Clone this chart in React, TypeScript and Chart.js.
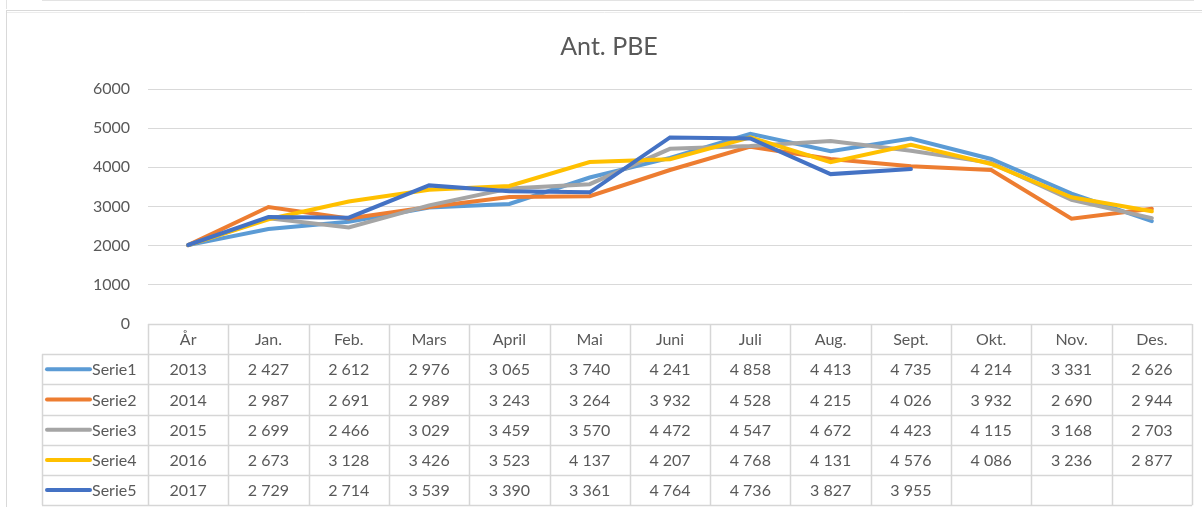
import React, { useEffect, useRef } from "react";
import { Chart, registerables } from "chart.js";

Chart.register(...registerables);

const categories = ["År", "Jan.", "Feb.", "Mars", "April", "Mai", "Juni", "Juli", "Aug.", "Sept.", "Okt.", "Nov.", "Des."];
const serie1 = [2013, 2427, 2612, 2976, 3065, 3740, 4241, 4858, 4413, 4735, 4214, 3331, 2626];
const serie2 = [2014, 2987, 2691, 2989, 3243, 3264, 3932, 4528, 4215, 4026, 3932, 2690, 2944];
const serie3 = [2015, 2699, 2466, 3029, 3459, 3570, 4472, 4547, 4672, 4423, 4115, 3168, 2703];
const serie4 = [2016, 2673, 3128, 3426, 3523, 4137, 4207, 4768, 4131, 4576, 4086, 3236, 2877];
const serie5 = [2017, 2729, 2714, 3539, 3390, 3361, 4764, 4736, 3827, 3955, null, null, null];
const seriesNames = ["Serie1", "Serie2", "Serie3", "Serie4", "Serie5"];
const seriesColors = ["#5B9BD5", "#ED7D31", "#A5A5A5", "#FFC000", "#4472C4"];
const seriesValues = [serie1, serie2, serie3, serie4, serie5];
const chartTitle = "Ant. PBE";
const yMin = 0;
const yMax = 6000;
const yStep = 1000;

const FONT = "Lato, 'Noto Sans', sans-serif";
const TEXT = "#595959";
const BORDER = "#d6d6d6";

function fmt(v: number | null, idx: number): string {
  if (v === null || v === undefined) return "";
  if (idx === 0) return String(v);
  return String(v).replace(/\B(?=(\d{3})+(?!\d))/g, " ");
}

const tablePlugin = {
  id: "dataTable",
  beforeDraw(chart: any) {
    const ctx = chart.ctx;
    ctx.save();
    ctx.fillStyle = "#ffffff";
    ctx.fillRect(0, 0, chart.width, chart.height);
    ctx.strokeStyle = "#e3e3e3";
    ctx.lineWidth = 1;
    ctx.beginPath();
    ctx.moveTo(42, 0.5);
    ctx.lineTo(1194, 0.5);
    ctx.moveTo(6.5, 0);
    ctx.lineTo(6.5, 9);
    ctx.stroke();
    ctx.strokeStyle = "#d9d9d9";
    ctx.beginPath();
    ctx.moveTo(6, 10.5);
    ctx.lineTo(chart.width, 10.5);
    ctx.moveTo(6.5, 10);
    ctx.lineTo(6.5, chart.height);
    ctx.stroke();
    ctx.strokeStyle = "#ececec";
    ctx.beginPath();
    ctx.moveTo(7, 12.5);
    ctx.lineTo(chart.width, 12.5);
    ctx.stroke();
    ctx.restore();
  },
  afterDraw(chart: any) {
    const ctx = chart.ctx;
    const xs = chart.scales.x;
    const n = categories.length;
    const w = (xs.right - xs.left) / n;
    const left = xs.left;
    const right = xs.right;
    const top = chart.chartArea.bottom;
    const rowH = 30.2;
    const legLeft = 42;
    const rows = seriesValues.length;
    ctx.save();
    // title
    ctx.fillStyle = TEXT;
    ctx.font = `25px ${FONT}`;
    ctx.textAlign = "center";
    ctx.textBaseline = "middle";
    ctx.fillText(chartTitle, 609, 47);

    // table borders
    ctx.strokeStyle = BORDER;
    ctx.lineWidth = 1.5;
    ctx.beginPath();
    for (let k = 0; k <= rows + 1; k++) {
      const y = Math.round(top + k * rowH) + 0.5;
      ctx.moveTo(k === 0 ? left : legLeft, y);
      ctx.lineTo(right, y);
    }
    const bottom = top + (rows + 1) * rowH;
    ctx.moveTo(legLeft + 0.5, top + rowH);
    ctx.lineTo(legLeft + 0.5, bottom);
    for (let i = 0; i <= n; i++) {
      const x = Math.round(left + i * w) + 0.5;
      ctx.moveTo(x, top);
      ctx.lineTo(x, bottom);
    }
    ctx.stroke();

    // header
    ctx.font = `16px ${FONT}`;
    ctx.fillStyle = TEXT;
    ctx.textAlign = "center";
    ctx.textBaseline = "middle";
    for (let i = 0; i < n; i++) {
      ctx.fillText(categories[i], left + (i + 0.5) * w, top + rowH / 2 + 1);
    }
    // rows
    for (let r = 0; r < rows; r++) {
      const cy = top + (r + 1.5) * rowH + 1;
      ctx.strokeStyle = seriesColors[r];
      ctx.lineWidth = 4;
      ctx.lineCap = "round";
      ctx.beginPath();
      ctx.moveTo(47, cy - 1);
      ctx.lineTo(90, cy - 1);
      ctx.stroke();
      ctx.textAlign = "left";
      ctx.fillStyle = TEXT;
      ctx.fillText(seriesNames[r], 92, cy);
      ctx.textAlign = "center";
      const vals = seriesValues[r];
      for (let i = 0; i < n; i++) {
        ctx.fillText(fmt(vals[i] as any, i), left + (i + 0.5) * w, cy);
      }
    }
    ctx.restore();
  },
};

export default function App() {
  const ref = useRef<HTMLCanvasElement | null>(null);
  useEffect(() => {
    document.body.style.margin = "0";
    const canvas = ref.current;
    if (!canvas) return;
    const chart = new Chart(canvas, {
      type: "line",
      data: {
        labels: categories,
        datasets: seriesValues.map((vals, i) => ({
          label: seriesNames[i],
          data: vals,
          borderColor: seriesColors[i],
          backgroundColor: seriesColors[i],
          borderWidth: 4,
          pointRadius: 0,
          pointHoverRadius: 0,
          tension: 0,
          fill: false,
          spanGaps: false,
          order: seriesValues.length - i,
          borderCapStyle: "round" as const,
          borderJoinStyle: "miter" as const,
        })),
      },
      options: {
        responsive: false,
        animation: false,
        devicePixelRatio: 1,
        layout: { padding: { top: 89, bottom: 183, left: 0, right: 10 } },
        plugins: {
          legend: { display: false },
          title: { display: false },
          tooltip: { enabled: false },
        },
        scales: {
          x: {
            type: "category",
            display: false,
            offset: true,
          },
          y: {
            min: yMin,
            max: yMax,
            border: { display: false },
            grid: { color: "#d9d9d9", lineWidth: 1, drawTicks: false, tickLength: 0 },
            ticks: {
              stepSize: yStep,
              padding: 18,
              color: TEXT,
              font: { family: FONT, size: 16 },
              callback: (v: any) => String(v),
            },
            afterFit(scale: any) {
              scale.width = 148;
            },
          },
        },
      },
      plugins: [tablePlugin],
    });
    return () => chart.destroy();
  }, []);
  return (
    <div style={{ width: 1202, height: 507 }}>
      <canvas ref={ref} width={1202} height={507} style={{ display: "block" }} />
    </div>
  );
}
